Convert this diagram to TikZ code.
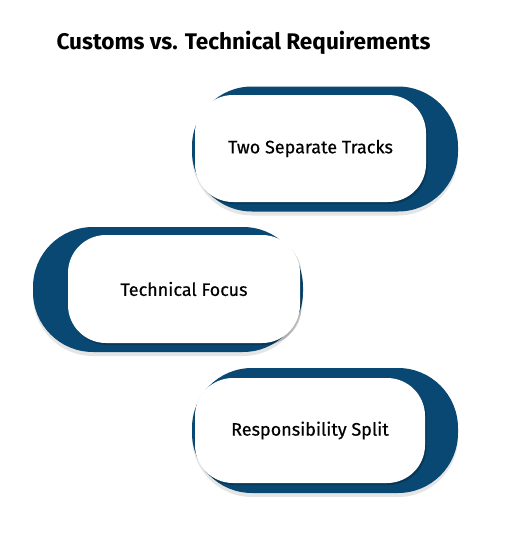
\documentclass[tikz,border=0pt]{standalone}
\usepackage{fontspec}
\setmainfont{Fira Sans}
\newfontfamily\cardfont[FakeBold=0.5]{Fira Sans}
\usetikzlibrary{shadows}
\definecolor{pillblue}{RGB}{9,72,114}
\newcommand{\cardtext}[1]{{\cardfont\fontsize{18}{21}\selectfont #1}}

\begin{document}
\begin{tikzpicture}[
 x=1pt,
 y=-1pt,
 back/.style={
  fill=pillblue,
  rectangle,
  rounded corners=60pt,
  inner sep=0pt,
  minimum width=266pt,
  minimum height=125pt,
  drop shadow={shadow xshift=0pt,shadow yshift=-4pt,opacity=0.10,fill=black},
 },
 card/.style={
  fill=white,
  rectangle,
  rounded corners=38pt,
  inner sep=0pt,
  minimum width=231pt,
  minimum height=107pt,
  align=center,
  drop shadow={shadow xshift=1.5pt,shadow yshift=-2pt,opacity=0.22,fill=black},
 }
]
\useasboundingbox[fill=white] (0,0) rectangle (520,554);

\node at (243.5,43) (title) {\fontsize{22.6}{26}\selectfont\bfseries Customs vs. Technical Requirements};

\node at (325,149) [back] (tracksback) {};
\node at (310.5,148.5) [card] (tracks) {\cardtext{Two Separate Tracks}};

\node at (168,289.5) [back,minimum width=270pt] (focusback) {};
\node at (184,289) [card,minimum width=232pt,minimum height=108pt] (focus) {\cardtext{Technical Focus}};

\node at (325,430.5) [back] (splitback) {};
\node at (310,430.5) [card,minimum width=230pt,minimum height=105pt] (split) {\cardtext{Responsibility Split}};

\end{tikzpicture}
\end{document}
